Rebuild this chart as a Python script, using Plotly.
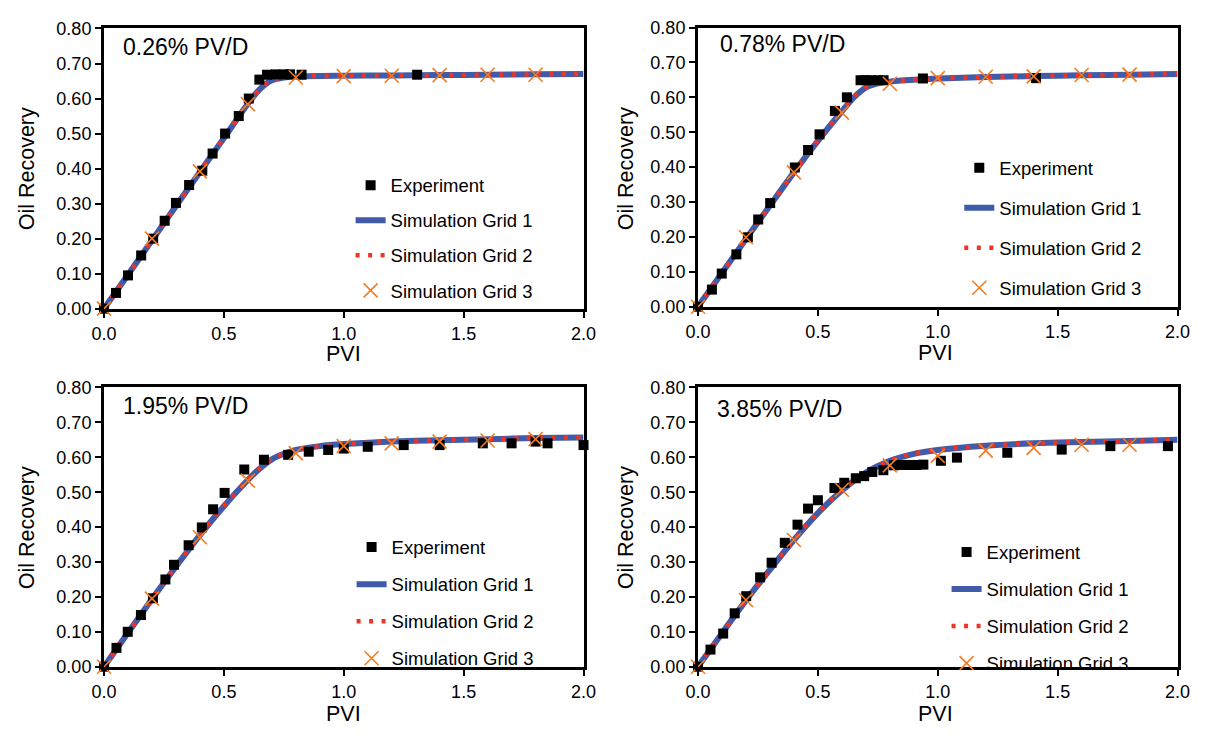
import plotly.graph_objects as go

# ---------------- data ----------------
panel_labels = ["0.26% PV/D", "0.78% PV/D", "1.95% PV/D", "3.85% PV/D"]
series_names = ["Experiment", "Simulation Grid 1", "Simulation Grid 2", "Simulation Grid 3"]
x_ticks = [0.0, 0.5, 1.0, 1.5, 2.0]
x_tick_text = ["0.0", "0.5", "1.0", "1.5", "2.0"]
y_ticks = [0.0, 0.1, 0.2, 0.3, 0.4, 0.5, 0.6, 0.7, 0.8]
y_tick_text = ["0.00", "0.10", "0.20", "0.30", "0.40", "0.50", "0.60", "0.70", "0.80"]

# Panel 1: 0.26% PV/D
exp1_x = [0.0, 0.05, 0.10, 0.155, 0.205, 0.253, 0.30, 0.355, 0.41, 0.453, 0.505, 0.562, 0.604, 0.648, 0.68, 0.716, 0.75, 0.776, 0.824, 1.306]
exp1_y = [0.0, 0.045, 0.095, 0.152, 0.20, 0.251, 0.302, 0.353, 0.394, 0.443, 0.50, 0.55, 0.60, 0.654, 0.668, 0.669, 0.669, 0.669, 0.668, 0.668]
g1_1x = [0, 0.1, 0.2, 0.3, 0.4, 0.5, 0.6, 0.65, 0.7, 0.75, 0.8, 1.0, 1.2, 1.4, 1.6, 1.8, 2.0]
g1_1y = [0, 0.097, 0.195, 0.293, 0.39, 0.487, 0.585, 0.627, 0.652, 0.660, 0.663, 0.665, 0.666, 0.667, 0.668, 0.669, 0.670]
g2_1x = [0, 0.1, 0.2, 0.3, 0.4, 0.5, 0.6, 0.65, 0.7, 0.75, 0.8, 1.0, 1.2, 1.4, 1.6, 1.8, 2.0]
g2_1y = [0, 0.097, 0.195, 0.293, 0.39, 0.487, 0.585, 0.628, 0.653, 0.661, 0.663, 0.665, 0.666, 0.667, 0.668, 0.669, 0.670]
g3_1x = [0, 0.2, 0.4, 0.6, 0.8, 1.0, 1.2, 1.4, 1.6, 1.8]
g3_1y = [0, 0.20, 0.392, 0.584, 0.660, 0.664, 0.665, 0.667, 0.668, 0.668]

# Panel 2: 0.78% PV/D
exp2_x = [0.0, 0.058, 0.099, 0.160, 0.208, 0.251, 0.301, 0.404, 0.459, 0.507, 0.571, 0.621, 0.678, 0.70, 0.72, 0.75, 0.774, 0.938, 1.41]
exp2_y = [0.0, 0.049, 0.095, 0.150, 0.199, 0.250, 0.297, 0.399, 0.449, 0.494, 0.561, 0.60, 0.649, 0.649, 0.649, 0.649, 0.649, 0.654, 0.655]
g1_2x = [0, 0.1, 0.2, 0.3, 0.4, 0.5, 0.6, 0.65, 0.7, 0.75, 0.8, 0.9, 1.0, 1.2, 1.4, 1.6, 1.8, 2.0]
g1_2y = [0, 0.097, 0.194, 0.29, 0.385, 0.475, 0.56, 0.60, 0.628, 0.640, 0.645, 0.650, 0.654, 0.658, 0.661, 0.663, 0.665, 0.667]
g2_2x = [0, 0.1, 0.2, 0.3, 0.4, 0.5, 0.6, 0.65, 0.7, 0.75, 0.8, 0.9, 1.0, 1.2, 1.4, 1.6, 1.8, 2.0]
g2_2y = [0, 0.097, 0.194, 0.29, 0.385, 0.476, 0.561, 0.601, 0.628, 0.640, 0.645, 0.650, 0.654, 0.658, 0.661, 0.663, 0.665, 0.667]
g3_2x = [0, 0.2, 0.4, 0.6, 0.8, 1.0, 1.2, 1.4, 1.6, 1.8]
g3_2y = [0, 0.199, 0.385, 0.556, 0.639, 0.655, 0.659, 0.660, 0.664, 0.665]

# Panel 3: 1.95% PV/D
exp3_x = [0.0, 0.052, 0.099, 0.154, 0.204, 0.256, 0.292, 0.353, 0.408, 0.455, 0.503, 0.585, 0.667, 0.768, 0.854, 0.935, 1.0, 1.1, 1.25, 1.4, 1.58, 1.7, 1.8, 1.85, 2.0]
exp3_y = [0.0, 0.054, 0.100, 0.148, 0.196, 0.250, 0.292, 0.348, 0.399, 0.451, 0.498, 0.565, 0.593, 0.607, 0.616, 0.621, 0.625, 0.630, 0.635, 0.635, 0.640, 0.640, 0.645, 0.640, 0.635]
g1_3x = [0, 0.1, 0.2, 0.3, 0.4, 0.5, 0.6, 0.65, 0.7, 0.75, 0.8, 0.9, 1.0, 1.2, 1.4, 1.6, 1.8, 2.0]
g1_3y = [0, 0.097, 0.194, 0.287, 0.377, 0.46, 0.535, 0.568, 0.594, 0.610, 0.621, 0.632, 0.638, 0.645, 0.649, 0.652, 0.655, 0.657]
g2_3x = [0, 0.1, 0.2, 0.3, 0.4, 0.5, 0.6, 0.65, 0.7, 0.75, 0.8, 0.9, 1.0, 1.2, 1.4, 1.6, 1.8, 2.0]
g2_3y = [0, 0.097, 0.194, 0.288, 0.378, 0.461, 0.536, 0.569, 0.595, 0.611, 0.621, 0.632, 0.638, 0.645, 0.649, 0.652, 0.655, 0.657]
g3_3x = [0, 0.2, 0.4, 0.6, 0.8, 1.0, 1.2, 1.4, 1.6, 1.8]
g3_3y = [0, 0.195, 0.371, 0.533, 0.612, 0.632, 0.640, 0.645, 0.648, 0.652]

# Panel 4: 3.85% PV/D
exp4_x = [0.0, 0.052, 0.105, 0.153, 0.201, 0.259, 0.307, 0.362, 0.415, 0.459, 0.50, 0.569, 0.61, 0.658, 0.693, 0.727, 0.773, 0.817, 0.85, 0.88, 0.91, 0.94, 1.013, 1.08, 1.29, 1.517, 1.72, 1.96]
exp4_y = [0.0, 0.049, 0.095, 0.153, 0.202, 0.256, 0.298, 0.355, 0.407, 0.453, 0.477, 0.512, 0.527, 0.540, 0.546, 0.558, 0.563, 0.577, 0.578, 0.578, 0.578, 0.579, 0.590, 0.599, 0.613, 0.622, 0.632, 0.632]
g1_4x = [0, 0.1, 0.2, 0.3, 0.4, 0.5, 0.6, 0.7, 0.8, 0.9, 1.0, 1.2, 1.4, 1.6, 1.8, 2.0]
g1_4y = [0, 0.096, 0.19, 0.278, 0.363, 0.44, 0.505, 0.556, 0.590, 0.610, 0.621, 0.633, 0.640, 0.644, 0.647, 0.650]
g2_4x = [0, 0.1, 0.2, 0.3, 0.4, 0.5, 0.6, 0.7, 0.8, 0.9, 1.0, 1.2, 1.4, 1.6, 1.8, 2.0]
g2_4y = [0, 0.096, 0.19, 0.279, 0.364, 0.441, 0.506, 0.557, 0.591, 0.611, 0.622, 0.633, 0.640, 0.644, 0.647, 0.650]
g3_4x = [0, 0.2, 0.4, 0.6, 0.8, 1.0, 1.2, 1.4, 1.6, 1.8]
g3_4y = [0, 0.191, 0.363, 0.507, 0.577, 0.604, 0.619, 0.627, 0.636, 0.636]

panels = [
    (exp1_x, exp1_y, g1_1x, g1_1y, g2_1x, g2_1y, g3_1x, g3_1y),
    (exp2_x, exp2_y, g1_2x, g1_2y, g2_2x, g2_2y, g3_2x, g3_2y),
    (exp3_x, exp3_y, g1_3x, g1_3y, g2_3x, g2_3y, g3_3x, g3_3y),
    (exp4_x, exp4_y, g1_4x, g1_4y, g2_4x, g2_4y, g3_4x, g3_4y),
]

# ---------------- styling / layout ----------------
W, H = 1214, 738
FONT = "Liberation Sans, Arial, Helvetica, sans-serif"
BLUE = "#3F5BAA"
RED = "#EE3424"
ORANGE = "#F47B20"

x_domains = [[93 / W, 583 / W], [700 / W, 1190 / W], [93 / W, 583 / W], [700 / W, 1190 / W]]
y_domains = [[1 - 307 / H, 1 - 19 / H], [1 - 305 / H, 1 - 18 / H],
             [1 - 675 / H, 1 - 388 / H], [1 - 675 / H, 1 - 388 / H]]

# legend placement (px of legend top-left) and row gaps
legend_pos = [(345, 161, 8), (967, 143, 13), (346, 533, 10), (954, 538, 10)]
label_pos = [(110, 38), (720, 35), (110, 407), (717, 410)]
pvi_pos = [(338, 354), (943, 353), (338, 724), (943, 724)]
oil_pos = [(14, 163), (626, 163), (14, 532), (626, 532)]

fig = go.Figure()

for i, (ex, ey, ax_, ay_, bx, by, cx, cy) in enumerate(panels):
    k = "" if i == 0 else str(i + 1)
    xa, ya, lg = "x" + k, "y" + k, "legend" + k
    fig.add_trace(go.Scatter(
        x=ax_, y=ay_, mode="lines", name=series_names[1], xaxis=xa, yaxis=ya,
        line=dict(color=BLUE, width=6, shape="spline", smoothing=0.6),
        legend=lg, legendgroup=f"g1_{i}", legendrank=2))
    fig.add_trace(go.Scatter(
        x=bx, y=by, mode="lines", name=series_names[2], xaxis=xa, yaxis=ya,
        line=dict(color=RED, width=4.5, dash="4px,8.5px", shape="spline", smoothing=0.6),
        legend=lg, legendgroup=f"g2_{i}", legendrank=3))
    fig.add_trace(go.Scatter(
        x=ex, y=ey, mode="markers", name=series_names[0], xaxis=xa, yaxis=ya,
        marker=dict(symbol="square", size=10, color="black"),
        cliponaxis=False, legend=lg, legendgroup=f"ex_{i}", legendrank=1))
    fig.add_trace(go.Scatter(
        x=cx, y=cy, mode="markers", name=series_names[3], xaxis=xa, yaxis=ya,
        marker=dict(symbol="x-thin", size=14, color=ORANGE,
                    line=dict(color=ORANGE, width=1.6)),
        cliponaxis=False, legend=lg, legendgroup=f"g3_{i}", legendrank=4))

layout = dict(
    width=W, height=H,
    margin=dict(l=0, r=0, t=0, b=0),
    paper_bgcolor="white", plot_bgcolor="white",
    font=dict(family=FONT, size=18, color="black"),
    annotations=[],
)

axis_common = dict(
    showgrid=False, zeroline=False, showline=True, linecolor="black", linewidth=3,
    mirror=True, ticks="outside", ticklen=6, tickwidth=2, tickcolor="black",
    tickfont=dict(family=FONT, size=18, color="black"),
)

for i in range(4):
    k = "" if i == 0 else str(i + 1)
    layout["xaxis" + k] = dict(
        axis_common, domain=x_domains[i], range=[0, 2.0], anchor="y" + k,
        tickmode="array", tickvals=x_ticks, ticktext=x_tick_text, ticklabelstandoff=1)
    layout["yaxis" + k] = dict(
        axis_common, domain=y_domains[i], range=[0, 0.8], anchor="x" + k,
        tickmode="array", tickvals=y_ticks, ticktext=y_tick_text)
    lx, ly, gap = legend_pos[i]
    layout["legend" + k] = dict(
        x=lx / W, y=1 - ly / H, xanchor="left", yanchor="top",
        bgcolor="rgba(0,0,0,0)", borderwidth=0, traceorder="grouped",
        tracegroupgap=gap, font=dict(family=FONT, size=18.5, color="black"))
    px, py = label_pos[i]
    layout["annotations"].append(dict(
        text=panel_labels[i], x=px / W, y=1 - py / H, xref="paper", yref="paper",
        xanchor="left", yanchor="middle", showarrow=False,
        font=dict(family=FONT, size=23, color="black")))
    px, py = pvi_pos[i]
    layout["annotations"].append(dict(
        text="PVI", x=px / W, y=1 - py / H, xref="paper", yref="paper",
        xanchor="center", yanchor="middle", showarrow=False,
        font=dict(family=FONT, size=21.5, color="black")))
    px, py = oil_pos[i]
    layout["annotations"].append(dict(
        text="Oil Recovery", x=px / W, y=1 - py / H, xref="paper", yref="paper",
        xanchor="center", yanchor="middle", showarrow=False, textangle=-90,
        font=dict(family=FONT, size=21.5, color="black")))

fig.update_layout(**layout)
fig.write_html("out.html")
